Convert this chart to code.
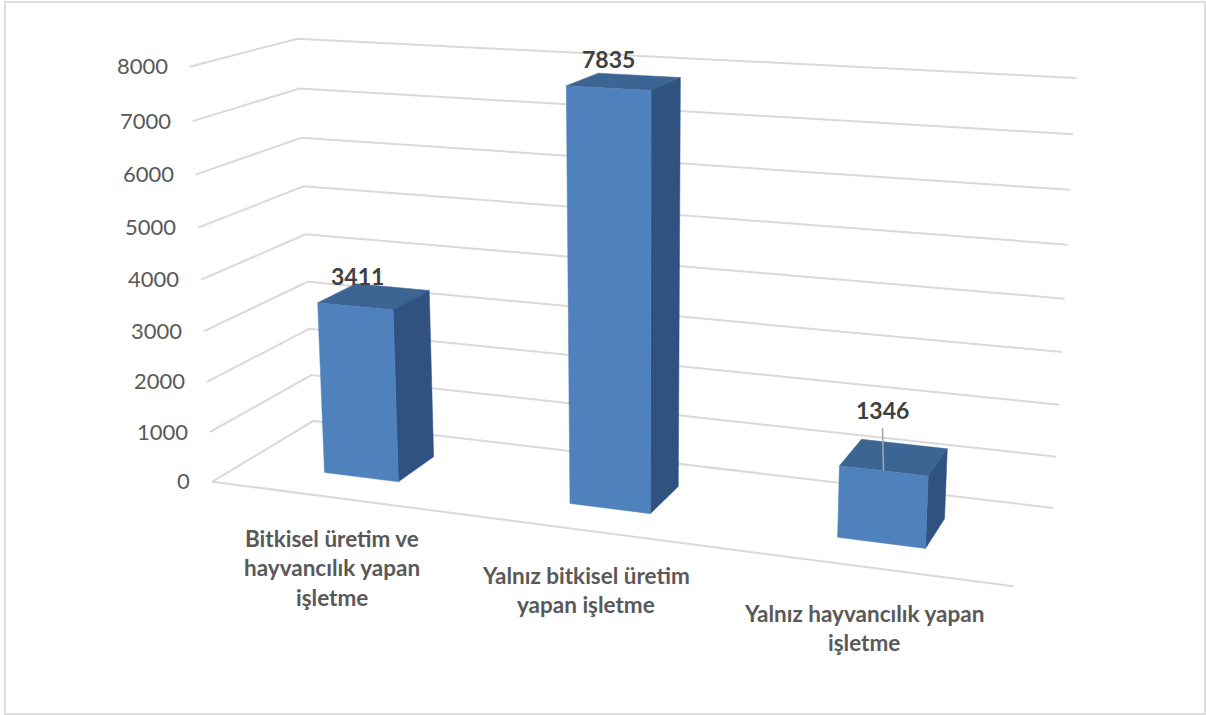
import numpy as np, plotly.graph_objects as go

categories = ["Bitkisel üretim ve\nhayvancılık yapan\nişletme", "Yalnız bitkisel üretim\nyapan işletme", "Yalnız hayvancılık yapan\nişletme"]
values = [3411, 7835, 1346]
ticks = [0, 1000, 2000, 3000, 4000, 5000, 6000, 7000, 8000]

# projection of the chart box onto the page, from its corners on the reference
left_front = [(213,481),(209,432),(207,382),(204,331),(201,280),(198,228),(195,175),(193,121),(190,67)]
left_back = [(313.5,421),(312,375),(309,329),(307,282),(304,235),(306,186),(303,137),(300,88),(298,38)]
right_back = [(1053,508),(1056,457),(1059,405),(1062,352),(1065,298),(1068,245),(1071,190),(1073,134),(1076,78)]
anchors = []
for i, t in enumerate(ticks):
    anchors += [((0,0,t), left_front[i]), ((3,1,t), right_back[i])]
    anchors += [((0,1,t), left_back[i])] if i in (0,1,2,3,8) else []
anchors.append(((3,0,0),(1014,586)))
A = []
for (u,v,z),(px,py) in anchors:
    X = [u/3, v, z/8000, 1]; x, y = px/1000, py/1000
    A.append(X+[0,0,0,0]+[-x*c for c in X])
    A.append([0,0,0,0]+X+[-y*c for c in X])
M = np.linalg.svd(np.array(A))[2][-1].reshape(3,4)
def proj(u,v,z):
    h = M @ np.array([u/3, v, z/8000, 1])
    return h[0]/h[2]*1000, h[1]/h[2]*1000

GRID='#d9d9d9'
FONT='Lato'
fig=go.Figure()
def line(pts,color=GRID,width=2):
    fig.add_trace(go.Scatter(x=[p[0] for p in pts],y=[p[1] for p in pts],mode='lines',line=dict(color=color,width=width),hoverinfo='skip'))
def face(pts,color):
    pts=pts+pts[:1]
    fig.add_trace(go.Scatter(x=[p[0] for p in pts],y=[p[1] for p in pts],mode='lines',fill='toself',fillcolor=color,line=dict(color=color,width=0.5),hoverinfo='skip'))
for t in ticks:
    line([proj(0,0,t),proj(0,1,t),proj(3,1,t)])
line([proj(0,0,0),proj(3,0,0)])
V0,V1=.30,.69
for c,v in enumerate(values):
    u0,u1=c+.345,c+.655
    face([proj(u0,V0,v),proj(u1,V0,v),proj(u1,V1,v),proj(u0,V1,v)],'#3d6594')
    face([proj(u1,V0,0),proj(u1,V1,0),proj(u1,V1,v),proj(u1,V0,v)],'#2f5280')
    face([proj(u0,V0,0),proj(u1,V0,0),proj(u1,V0,v),proj(u0,V0,v)],'#4f81bd')

ann=[]
for t in ticks:
    x,y=proj(0,0,t)
    ann.append(dict(x=x-20,y=y-1,text=str(t),xanchor='right',yanchor='middle',showarrow=False,font=dict(family=FONT,size=22,color='#595959')))
label_pos=[(357,276),(608,59),(882,410)]
for v,(x,y) in zip(values,label_pos):
    ann.append(dict(x=x,y=y,text=f'<b>{v}</b>',xanchor='center',yanchor='middle',showarrow=False,font=dict(family=FONT,size=23,color='#404040')))
cat_pos=[(332,538),(586,575),(864,613)]
for cat,(x,y) in zip(categories,cat_pos):
    for i,l in enumerate(cat.split('\n')):
        ann.append(dict(x=x,y=y+i*29.5,text=f'<b>{l}</b>',xanchor='center',yanchor='middle',showarrow=False,font=dict(family=FONT,size=22.5,color='#595959')))
lx,ly=proj(2.5,V0,values[2])
fig.update_layout(width=1206,height=715,margin=dict(l=0,r=0,t=0,b=0),showlegend=False,plot_bgcolor='white',paper_bgcolor='white',
 xaxis=dict(visible=False,range=[0,1206]),yaxis=dict(visible=False,range=[715,0]),annotations=ann,
 shapes=[dict(type='rect',x0=5,y0=2,x1=1205,y1=714,line=dict(color='#dedede',width=2),layer='below'),
         dict(type='line',x0=lx-1,y0=428,x1=lx,y1=ly,line=dict(color='#a6a6a6',width=1.5))])
fig.write_html("out.html",config=dict(displayModeBar=False),post_script="document.body.style.margin='0';document.documentElement.style.overflow='hidden';")
